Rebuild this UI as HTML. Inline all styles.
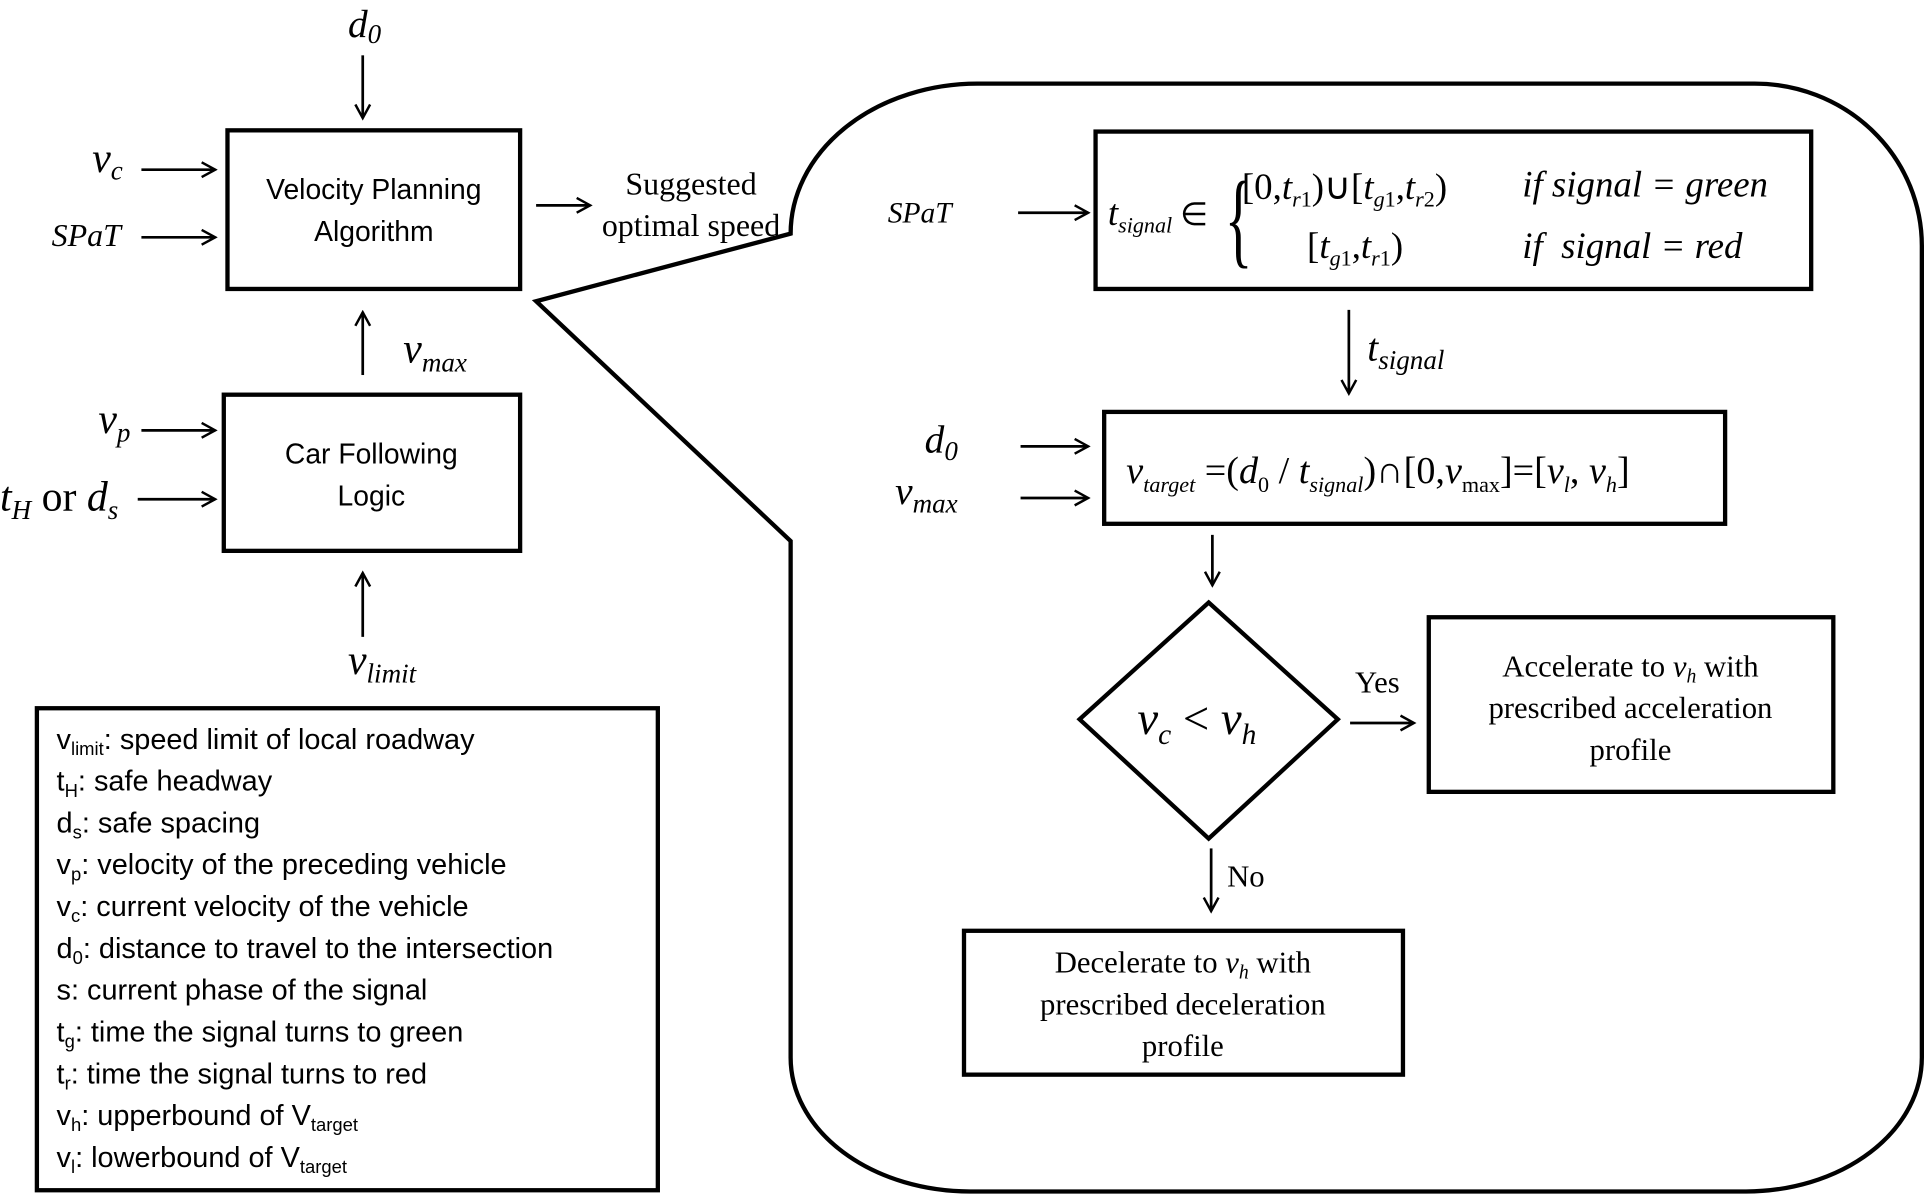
<!DOCTYPE html>
<html><head><meta charset="utf-8"><style>
html,body{margin:0;padding:0;background:#fff;}
svg{display:block;}
.s{font-family:"Liberation Sans",sans-serif;}
.r{font-family:"Liberation Serif",serif;}
.i{font-family:"Liberation Serif",serif;font-style:italic;}
</style></head><body>
<svg width="1928" height="1197" viewBox="0 0 1568 973.5" xmlns="http://www.w3.org/2000/svg">
<defs><marker id="a" markerWidth="14" markerHeight="14" refX="12" refY="7" orient="auto" markerUnits="userSpaceOnUse"><path d="M1,1 L12,7 L1,13" fill="none" stroke="#000" stroke-width="2"/></marker></defs>
<g stroke="#000" stroke-width="2.2" fill="none" marker-end="url(#a)">
<line x1="295" y1="45" x2="295" y2="96"/>
<line x1="115" y1="138" x2="175" y2="138"/>
<line x1="115" y1="193" x2="175" y2="193"/>
<line x1="436" y1="167" x2="480" y2="167"/>
<line x1="295" y1="305" x2="295" y2="254"/>
<line x1="115" y1="350" x2="175" y2="350"/>
<line x1="112" y1="406" x2="175" y2="406"/>
<line x1="295" y1="518" x2="295" y2="466"/>
<line x1="828" y1="173" x2="885" y2="173"/>
<line x1="1097" y1="252" x2="1097" y2="320"/>
<line x1="830" y1="363" x2="885" y2="363"/>
<line x1="830" y1="405" x2="885" y2="405"/>
<line x1="986" y1="435" x2="986" y2="476"/>
<line x1="1098" y1="588" x2="1150" y2="588"/>
<line x1="985" y1="690" x2="985" y2="741"/>
</g>
<g stroke="#000" stroke-width="3.5" fill="none">
<rect x="185" y="106" width="238" height="129"/>
<rect x="182" y="321" width="241" height="127"/>
<rect x="30" y="576" width="505" height="392"/>
<rect x="891" y="107" width="582" height="128"/>
<rect x="898" y="335" width="505" height="91"/>
<polygon points="983,490 1088,585 983,682 878,585"/>
<rect x="1162" y="502" width="329" height="142"/>
<rect x="784" y="757" width="357" height="117"/>
<path d="M643,190 L436,245 L643,440 L643,860 A146,109 0 0 0 789,969 L1420,969 A143,109 0 0 0 1563,860 L1563,200 A136,132 0 0 0 1427,68 L795,68 A152,122 0 0 0 643,190 Z"/>
</g>
<g fill="#000">
<text class="i" x="283" y="30" font-size="32">d<tspan font-size="22" dy="5">0</tspan></text>
<text class="i" x="75" y="140" font-size="34">v<tspan font-size="22" dy="6">c</tspan></text>
<text class="i" x="42" y="200" font-size="26">SPaT</text>
<text class="s" x="304" y="162" font-size="23" text-anchor="middle">Velocity Planning</text>
<text class="s" x="304" y="196" font-size="23" text-anchor="middle">Algorithm</text>
<text class="r" x="562" y="158" font-size="26" text-anchor="middle">Suggested</text>
<text class="r" x="562" y="192" font-size="26" text-anchor="middle">optimal speed</text>
<text class="i" x="328" y="295" font-size="34">v<tspan font-size="22" dy="7">max</tspan></text>
<text class="i" x="80" y="352" font-size="34">v<tspan font-size="22" dy="7">p</tspan></text>
<text class="r" x="0" y="415" font-size="34"><tspan font-style="italic">t</tspan><tspan font-size="22" dy="7" font-style="italic">H</tspan><tspan dy="-7"> or </tspan><tspan font-style="italic">d</tspan><tspan font-size="22" dy="7" font-style="italic">s</tspan></text>
<text class="s" x="302" y="377" font-size="23" text-anchor="middle">Car Following</text>
<text class="s" x="302" y="411" font-size="23" text-anchor="middle">Logic</text>
<text class="i" x="283" y="548" font-size="34">v<tspan font-size="22" dy="7">limit</tspan></text>
<g class="s" font-size="23.5">
<text x="46" y="609">v<tspan font-size="15" dy="5">limit</tspan><tspan dy="-5">: speed limit of local roadway</tspan></text>
<text x="46" y="643">t<tspan font-size="15" dy="5">H</tspan><tspan dy="-5">: safe headway</tspan></text>
<text x="46" y="677">d<tspan font-size="15" dy="5">s</tspan><tspan dy="-5">: safe spacing</tspan></text>
<text x="46" y="711">v<tspan font-size="15" dy="5">p</tspan><tspan dy="-5">: velocity of the preceding vehicle</tspan></text>
<text x="46" y="745">v<tspan font-size="15" dy="5">c</tspan><tspan dy="-5">: current velocity of the vehicle</tspan></text>
<text x="46" y="779">d<tspan font-size="15" dy="5">0</tspan><tspan dy="-5">: distance to travel to the intersection</tspan></text>
<text x="46" y="813">s: current phase of the signal</text>
<text x="46" y="847">t<tspan font-size="15" dy="5">g</tspan><tspan dy="-5">: time the signal turns to green</tspan></text>
<text x="46" y="881">t<tspan font-size="15" dy="5">r</tspan><tspan dy="-5">: time the signal turns to red</tspan></text>
<text x="46" y="915">v<tspan font-size="15" dy="5">h</tspan><tspan dy="-5">: upperbound of V</tspan><tspan font-size="15" dy="5">target</tspan></text>
<text x="46" y="949">v<tspan font-size="15" dy="5">l</tspan><tspan dy="-5">: lowerbound of V</tspan><tspan font-size="15" dy="5">target</tspan></text>
</g>
<text class="i" x="722" y="181" font-size="24">SPaT</text>
<text class="i" x="901" y="183" font-size="30">t<tspan font-size="18" dy="6">signal</tspan><tspan class="r" font-style="normal" font-size="26" dy="-6"> ∈</tspan></text>
<text class="r" x="0" y="0" font-size="86" transform="translate(996,207) scale(0.55,1)">{</text>
<text class="r" x="1010" y="162" font-size="30">[0,<tspan font-style="italic">t</tspan><tspan font-size="18" dy="6" font-style="italic">r</tspan><tspan font-size="18">1</tspan><tspan dy="-6">)∪[</tspan><tspan font-style="italic">t</tspan><tspan font-size="18" dy="6" font-style="italic">g</tspan><tspan font-size="18">1</tspan><tspan dy="-6">,</tspan><tspan font-style="italic">t</tspan><tspan font-size="18" dy="6" font-style="italic">r</tspan><tspan font-size="18">2</tspan><tspan dy="-6">)</tspan></text>
<text class="i" x="1238" y="160" font-size="30">if signal = green</text>
<text class="r" x="1063" y="210" font-size="30">[<tspan font-style="italic">t</tspan><tspan font-size="18" dy="6" font-style="italic">g</tspan><tspan font-size="18">1</tspan><tspan dy="-6">,</tspan><tspan font-style="italic">t</tspan><tspan font-size="18" dy="6" font-style="italic">r</tspan><tspan font-size="18">1</tspan><tspan dy="-6">)</tspan></text>
<text class="i" x="1238" y="210" font-size="30">if &#160;signal = red</text>
<text class="i" x="1112" y="293" font-size="32">t<tspan font-size="22" dy="7">signal</tspan></text>
<text class="i" x="752" y="368" font-size="32">d<tspan font-size="22" dy="6">0</tspan></text>
<text class="i" x="728" y="410" font-size="32">v<tspan font-size="22" dy="7">max</tspan></text>
<text class="r" x="916" y="393" font-size="31"><tspan font-style="italic">v</tspan><tspan font-size="18" dy="7" font-style="italic">target</tspan><tspan dy="-7"> =(</tspan><tspan font-style="italic">d</tspan><tspan font-size="18" dy="7">0</tspan><tspan dy="-7"> / </tspan><tspan font-style="italic">t</tspan><tspan font-size="18" dy="7" font-style="italic">signal</tspan><tspan dy="-7">)∩[0,</tspan><tspan font-style="italic">v</tspan><tspan font-size="18" dy="7">max</tspan><tspan dy="-7">]=[</tspan><tspan font-style="italic">v</tspan><tspan font-size="18" dy="7" font-style="italic">l</tspan><tspan dy="-7">, </tspan><tspan font-style="italic">v</tspan><tspan font-size="18" dy="7" font-style="italic">h</tspan><tspan dy="-7">]</tspan></text>
<text class="i" x="925" y="597" font-size="38">v<tspan font-size="24" dy="8">c</tspan><tspan dy="-8" font-style="normal"> &lt; </tspan>v<tspan font-size="24" dy="8">h</tspan></text>
<text class="r" x="1102" y="563" font-size="25">Yes</text>
<text class="r" x="998" y="721" font-size="25">No</text>
<g class="r" font-size="25" text-anchor="middle">
<text x="1326" y="550">Accelerate to <tspan font-style="italic">v</tspan><tspan font-style="italic" font-size="16" dy="5">h</tspan><tspan dy="-5"> with</tspan></text>
<text x="1326" y="584">prescribed acceleration</text>
<text x="1326" y="618">profile</text>
<text x="962" y="791">Decelerate to <tspan font-style="italic">v</tspan><tspan font-style="italic" font-size="16" dy="5">h</tspan><tspan dy="-5"> with</tspan></text>
<text x="962" y="825">prescribed deceleration</text>
<text x="962" y="859">profile</text>
</g>
</g>
</svg>
</body></html>
